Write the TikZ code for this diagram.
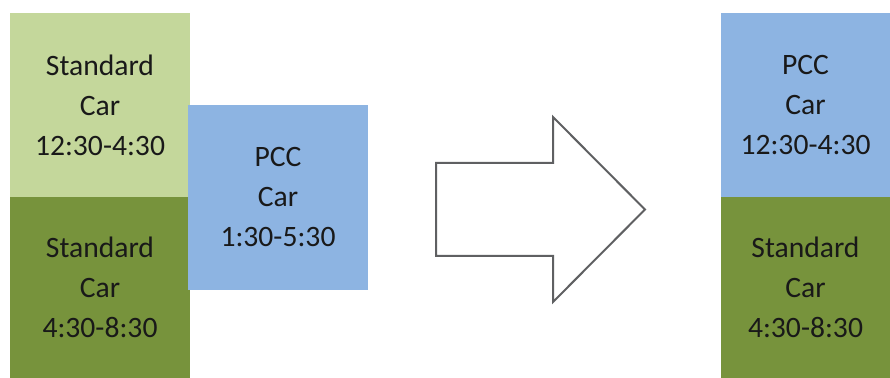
\documentclass[tikz,border=0pt]{standalone}
\usepackage{xcolor}
\usepackage{fontspec}
\setmainfont{Carlito}
\usetikzlibrary{positioning}
\definecolor{lightgreen}{HTML}{C4D79B}
\definecolor{darkgreen}{HTML}{77933C}
\definecolor{pccblue}{HTML}{8DB4E2}
\definecolor{arrowgray}{HTML}{5F6062}

\begin{document}
\begin{tikzpicture}[x=0.5pt,y=-0.5pt,
		car/.style={inner sep=0pt, outer sep=0pt, align=center, text=black!90,
			font=\fontsize{14.8}{20}\selectfont},
		wide/.style={car, minimum width=90pt},
		narrow/.style={car, minimum width=84.5pt}]
	\useasboundingbox (0,0) rectangle (890,378);
	% before
	\node[wide, fill=lightgreen, minimum height=92pt] (s1) at (100,105) {Standard\\Car\\12:30-4:30};
	\node[wide, fill=darkgreen, minimum height=90.5pt, below=0pt of s1] (s2) {Standard\\Car\\4:30-8:30};
	\node[wide, fill=pccblue, minimum height=92.5pt] (p1) at (278,197.5) {PCC\\Car\\1:30-5:30};
	% arrow
	\draw[arrowgray, line width=1pt, fill=white] (436,163) -- (553,163) -- (553,117) -- (645,209.5)
		-- (553,302) -- (553,256) -- (436,256) -- cycle;
	% after
	\node[narrow, fill=pccblue, minimum height=92pt] (p2) at (805.5,105) {PCC\\Car\\12:30-4:30};
	\node[narrow, fill=darkgreen, minimum height=90.5pt, below=0pt of p2] (s3) {Standard\\Car\\4:30-8:30};
\end{tikzpicture}
\end{document}
